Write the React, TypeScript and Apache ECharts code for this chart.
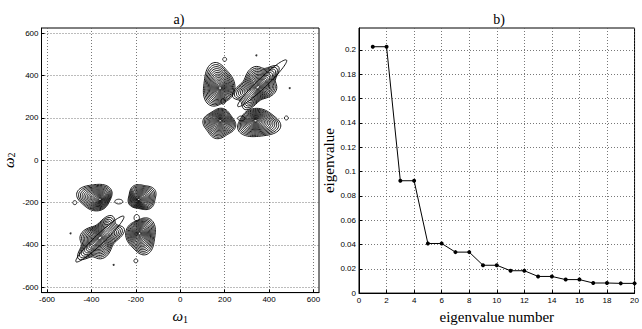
import React, { useEffect, useRef } from 'react';
import * as echarts from 'echarts';

// ---- data ----
const omegaTicks = [-600, -400, -200, 0, 200, 400, 600];
const eigenXTicks = [0, 2, 4, 6, 8, 10, 12, 14, 16, 18, 20];
const eigenYTicks = [0, 0.02, 0.04, 0.06, 0.08, 0.1, 0.12, 0.14, 0.16, 0.18, 0.2];
const eigenNumbers = [1, 2, 3, 4, 5, 6, 7, 8, 9, 10, 11, 12, 13, 14, 15, 16, 17, 18, 19, 20];
const eigenValues = [
  0.2026, 0.2026, 0.0924, 0.0924, 0.0408, 0.0408, 0.0337, 0.0337, 0.0229, 0.0229,
  0.0184, 0.0184, 0.0137, 0.0137, 0.0111, 0.0111, 0.0083, 0.0083, 0.008, 0.008,
];

// contour blobs:
// [outerX, outerY, radiusAlong, radiusAcross, angleDeg, levels, coreX, coreY, wobbleAmp, wobbleLobes, wobblePhaseDeg]
const upperBlobs = [
  [170, 355, 70, 100, 0, 16, 180, 340, 0.1, 3, 30],
  [345, 350, 118, 72, 45, 16, 350, 345, 0.14, 5, 10],
  [369, 364, 155, 22, 45, 1, 369, 364, 0.0, 1, 0],
  [176, 174, 70, 68, 0, 16, 180, 188, 0.07, 4, 45],
  [352, 174, 95, 66, 0, 16, 338, 188, 0.09, 3, 60],
  [275, 198, 16, 11, 0, 1, 275, 198, 0.0, 1, 0],
  [193, 278, 10, 13, 0, 1, 193, 278, 0.0, 1, 0],
];
const lowerBlobs = [
  [-384, -172, 78, 62, 0, 16, -360, -185, 0.09, 3, 240],
  [-172, -174, 64, 60, 0, 16, -188, -186, 0.07, 4, 225],
  [-362, -372, 118, 72, 45, 16, -362, -366, 0.14, 5, 190],
  [-362, -372, 152, 22, 45, 1, -362, -372, 0.0, 1, 0],
  [-174, -356, 66, 85, 0, 16, -184, -345, 0.1, 3, 210],
  [-277, -195, 18, 11, 0, 1, -277, -195, 0.0, 1, 0],
  [-196, -272, 12, 16, 0, 1, -196, -272, 0.0, 1, 0],
];
const isolatedRings = [[200, 477], [478, 200], [-475, -200], [-200, -475]];
const isolatedDots = [[343, 496], [493, 341], [-494, -345], [-300, -494]];

const serif = 'Liberation Serif';
const sans = 'Liberation Sans';

function renderBlob(_params: any, api: any) {
  const cx = api.value(0), cy = api.value(1);
  const rx = api.value(2), ry = api.value(3);
  const ang = (api.value(4) * Math.PI) / 180;
  const n = api.value(5);
  const kx = api.value(6), ky = api.value(7);
  const wa = api.value(8), wm = api.value(9), wp = (api.value(10) * Math.PI) / 180;
  const children: any[] = [];
  for (let k = 0; k < n; k++) {
    const s = n === 1 ? 1 : 0.05 + 0.95 * Math.pow(1 - k / n, 1.3);
    const ox = kx + (cx - kx) * s;
    const oy = ky + (cy - ky) * s;
    const amp = wa * s;
    const pts: number[][] = [];
    for (let j = 0; j <= 72; j++) {
      const th = (j / 72) * Math.PI * 2;
      const f = 1 + amp * Math.cos(wm * th + wp);
      const ex = rx * s * f * Math.cos(th);
      const ey = ry * s * f * Math.sin(th);
      const x = ox + ex * Math.cos(ang) - ey * Math.sin(ang);
      const y = oy + ex * Math.sin(ang) + ey * Math.cos(ang);
      pts.push(api.coord([x, y]));
    }
    children.push({
      type: 'polyline',
      shape: { points: pts },
      style: { stroke: '#000', fill: null, lineWidth: 0.9 },
    });
  }
  return { type: 'group', children };
}

const gridLine = { show: true, lineStyle: { color: '#555', type: [1, 2], width: 0.8 } };
const axisLineBlack = { show: true, onZero: false, lineStyle: { color: '#000', width: 1 } };
const labelStyle = { color: '#000', fontSize: 8, fontFamily: sans };
const omegaRich = {
  w: { fontFamily: serif, fontStyle: 'italic', fontSize: 15, color: '#000' },
  s: { fontFamily: serif, fontSize: 10, color: '#000', verticalAlign: 'bottom', padding: [6, 0, 0, 0] },
};

export default function App() {
  const ref = useRef<HTMLDivElement>(null);
  useEffect(() => {
    if (!ref.current) return;
    const chart = echarts.init(ref.current, undefined, { renderer: 'svg' });
    chart.setOption({
      animation: false,
      backgroundColor: '#fff',
      grid: [
        { left: 39, top: 28, width: 280, height: 280, show: true, borderColor: '#000', borderWidth: 1 },
        { left: 359, top: 28, width: 280, height: 280, show: true, borderColor: '#000', borderWidth: 1 },
      ],
      graphic: [
        { type: 'text', x: 179, y: 12, style: { text: 'a)', font: `14px "${serif}"`, fill: '#000', align: 'center' } },
        { type: 'text', x: 499, y: 12, style: { text: 'b)', font: `14px "${serif}"`, fill: '#000', align: 'center' } },
      ],
      xAxis: [
        {
          gridIndex: 0, type: 'value', min: -625, max: 625,
          axisLine: axisLineBlack,
          axisTick: { show: true, inside: true, length: 3, customValues: omegaTicks, lineStyle: { color: '#000' } },
          axisLabel: { ...labelStyle, margin: 3, customValues: omegaTicks },
          splitLine: gridLine,
          name: '{w|ω}{s|1}', nameLocation: 'middle', nameGap: -3,
          nameTextStyle: { rich: omegaRich },
        },
        {
          gridIndex: 1, type: 'value', min: 0, max: 20,
          axisLine: axisLineBlack,
          axisTick: { show: true, inside: true, length: 3, customValues: eigenXTicks, lineStyle: { color: '#000' } },
          axisLabel: { ...labelStyle, margin: 3, customValues: eigenXTicks },
          splitLine: gridLine,
          name: 'eigenvalue number', nameLocation: 'middle', nameGap: -3,
          nameTextStyle: { fontFamily: serif, fontSize: 15, color: '#000', verticalAlign: 'top' },
        },
      ],
      yAxis: [
        {
          gridIndex: 0, type: 'value', min: -625, max: 625,
          axisLine: axisLineBlack,
          axisTick: { show: true, inside: true, length: 3, customValues: omegaTicks, lineStyle: { color: '#000' } },
          axisLabel: { ...labelStyle, margin: 3, customValues: omegaTicks },
          splitLine: gridLine,
          name: '{w|ω}{s|2}', nameLocation: 'middle', nameGap: 25, nameRotate: 90,
          nameTextStyle: { rich: omegaRich },
        },
        {
          gridIndex: 1, type: 'value', min: 0, max: 0.218,
          axisLine: axisLineBlack,
          axisTick: { show: true, inside: true, length: 3, customValues: eigenYTicks, lineStyle: { color: '#000' } },
          axisLabel: { ...labelStyle, margin: 3, customValues: eigenYTicks, formatter: (v: number) => String(v) },
          splitLine: gridLine,
          name: 'eigenvalue', nameLocation: 'middle', nameGap: 19, nameRotate: 90,
          nameTextStyle: { fontFamily: serif, fontSize: 15, color: '#000' },
        },
      ],
      series: [
        {
          type: 'custom', xAxisIndex: 0, yAxisIndex: 0,
          renderItem: renderBlob,
          encode: { x: 0, y: 1 },
          data: [...upperBlobs, ...lowerBlobs],
          silent: true,
        },
        {
          type: 'scatter', xAxisIndex: 0, yAxisIndex: 0,
          data: isolatedRings, symbol: 'circle', symbolSize: 4,
          itemStyle: { color: '#fff', borderColor: '#000', borderWidth: 1 },
        },
        {
          type: 'scatter', xAxisIndex: 0, yAxisIndex: 0,
          data: isolatedDots, symbol: 'circle', symbolSize: 2,
          itemStyle: { color: '#000' },
        },
        {
          type: 'line', xAxisIndex: 1, yAxisIndex: 1,
          data: eigenNumbers.map((n, i) => [n, eigenValues[i]]),
          symbol: 'circle', symbolSize: 4,
          lineStyle: { color: '#000', width: 1 },
          itemStyle: { color: '#000' },
        },
      ],
    });
    return () => chart.dispose();
  }, []);
  return <div ref={ref} style={{ position: 'fixed', left: 0, top: 0, width: 642, height: 329 }} />;
}
